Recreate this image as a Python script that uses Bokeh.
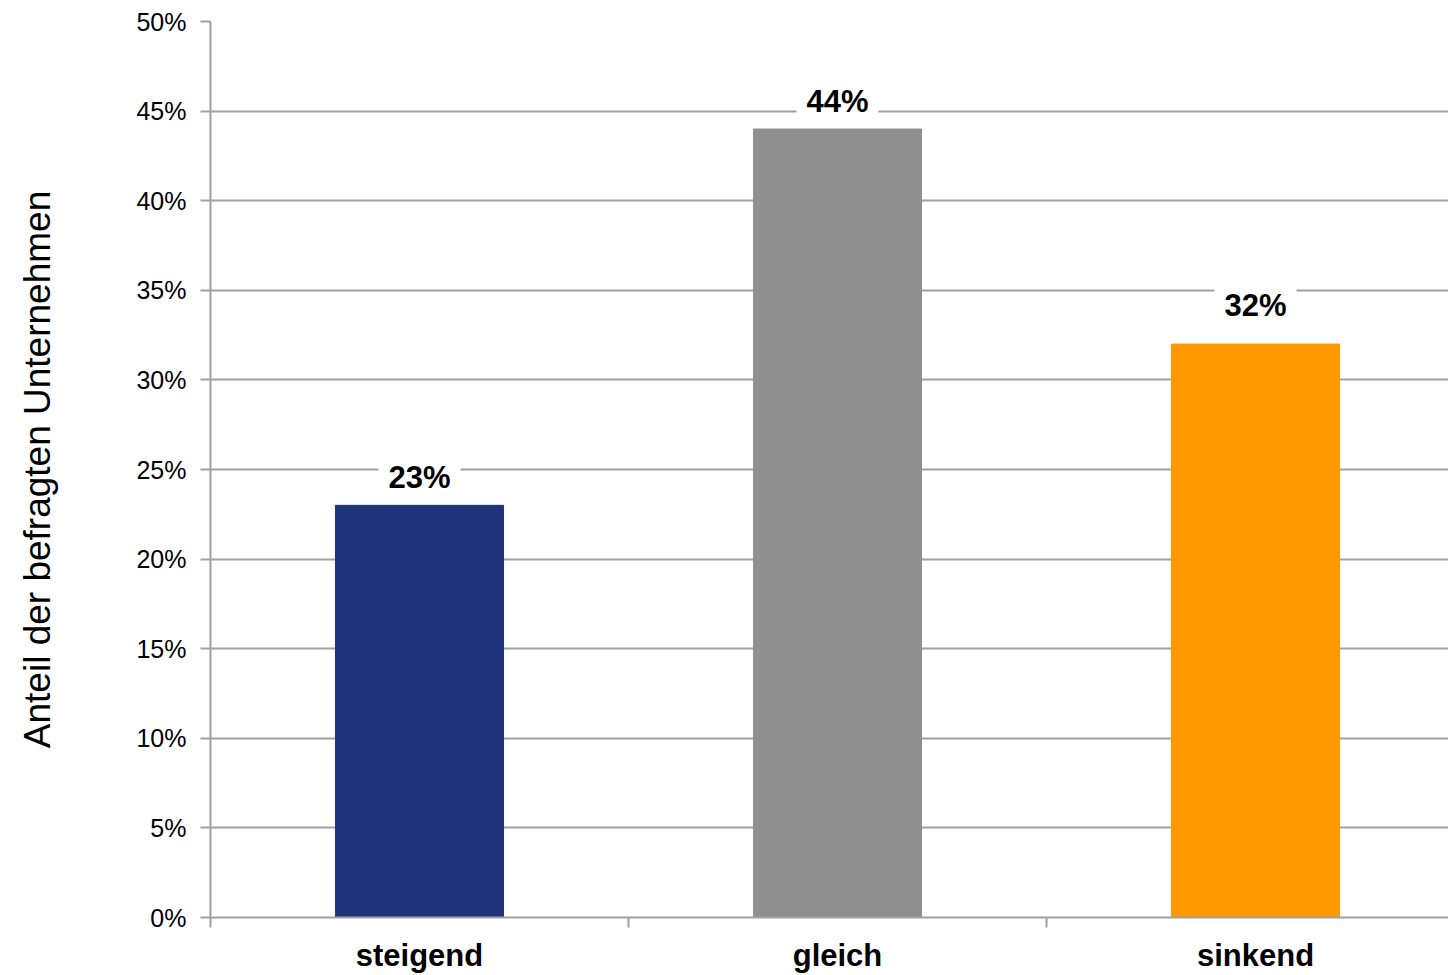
from bokeh.plotting import figure
from bokeh.models import ColumnDataSource, FixedTicker, PrintfTickFormatter, Range1d
from bokeh.core.properties import value
from bokeh.embed import file_html
from bokeh.resources import INLINE

categories = ["steigend", "gleich", "sinkend"]
values = [23, 44, 32]
colors = ["#1F347B", "#8F8F8F", "#FF9900"]
y_ticks = [0, 5, 10, 15, 20, 25, 30, 35, 40, 45, 50]
y_label = "Anteil der befragten Unternehmen"

# label offsets above bar tops, in pixels (the 32% label sits higher in the original)
label_offsets = [-28, -28, -39]

FONT = "Liberation Sans"
positions = [i + 0.5 for i in range(len(categories))]
source = ColumnDataSource(dict(
    x=positions, top=values, color=colors,
    label=[f"{v}%" for v in values], yoff=label_offsets,
))

W, H = 1448, 975
left, top, bottom = 210, 21, 58
plot_w = W - left
cat_px = 418.0

p = figure(width=W, height=H, output_backend="svg", toolbar_location=None,
           x_range=Range1d(0, plot_w / cat_px), y_range=Range1d(0, 50),
           min_border_left=left, min_border_right=0, min_border_top=top,
           min_border_bottom=bottom)
p.outline_line_color = None
p.background_fill_color = "white"

p.vbar(x="x", top="top", bottom=0, width=0.402, color="color", source=source)

p.text(x="x", y="top", text="label", source=source,
       text_align="center", text_baseline="alphabetic", y_offset="yoff",
       text_font=value(FONT), text_font_size="31px", text_font_style="bold",
       text_color="black", background_fill_color="white",
       padding=dict(left=10, right=10, top=0, bottom=0))

# y axis
p.yaxis.ticker = FixedTicker(ticks=y_ticks, minor_ticks=[])
p.yaxis.formatter = PrintfTickFormatter(format="%d%%")
p.yaxis.major_label_text_font = FONT
p.yaxis.major_label_text_font_size = "25px"
p.yaxis.major_label_text_color = "black"
p.yaxis.major_tick_out = 10
p.yaxis.major_tick_in = 0
p.yaxis.major_label_standoff = 14
p.yaxis.axis_line_color = "#A0A0A0"
p.yaxis.axis_line_width = 2
p.yaxis.major_tick_line_color = "#A0A0A0"
p.yaxis.major_tick_line_width = 2
p.yaxis.axis_label = y_label
p.yaxis.axis_label_text_font = FONT
p.yaxis.axis_label_text_font_size = "37px"
p.yaxis.axis_label_text_font_style = "normal"
p.yaxis.axis_label_text_color = "black"
p.yaxis.axis_label_standoff = 75

# x axis: labels at category centres, tick marks at category boundaries
p.xaxis.ticker = FixedTicker(ticks=positions, minor_ticks=[float(i) for i in range(len(categories))])
p.xaxis.major_label_overrides = {pos: c for pos, c in zip(positions, categories)}
p.xaxis.major_label_text_font = FONT
p.xaxis.major_label_text_font_size = "31px"
p.xaxis.major_label_text_font_style = "bold"
p.xaxis.major_label_text_color = "black"
p.xaxis.major_tick_line_color = None
p.xaxis.major_tick_out = 0
p.xaxis.major_tick_in = 0
p.xaxis.major_label_standoff = 10
p.xaxis.minor_tick_out = 10
p.xaxis.minor_tick_in = 0
p.xaxis.minor_tick_line_color = "#A0A0A0"
p.xaxis.minor_tick_line_width = 2
p.xaxis.axis_line_color = "#A0A0A0"
p.xaxis.axis_line_width = 2

p.xgrid.grid_line_color = None
p.ygrid.ticker = FixedTicker(ticks=y_ticks)
p.ygrid.grid_line_color = "#A0A0A0"
p.ygrid.grid_line_width = 2

open("out.html", "w").write(file_html(p, INLINE))
